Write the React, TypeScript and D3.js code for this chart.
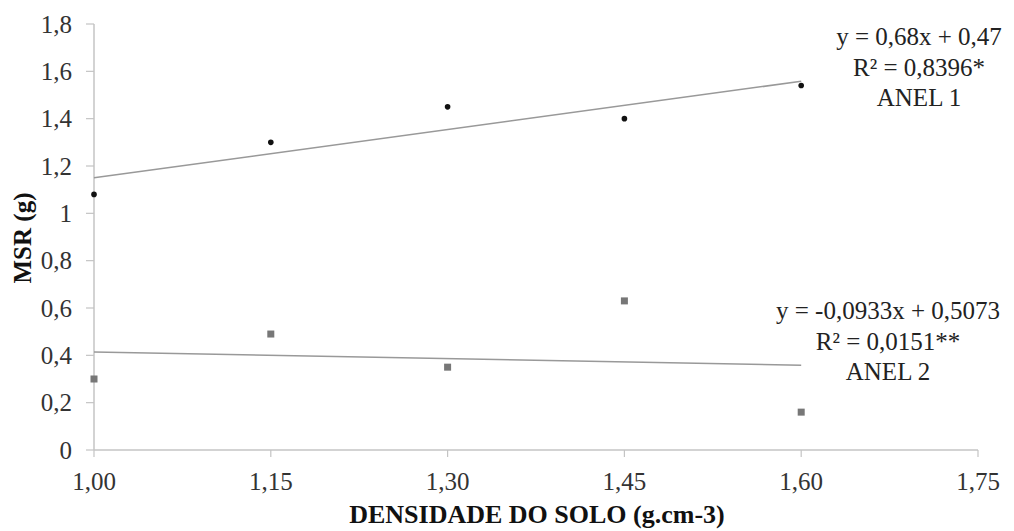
import React from 'react';
import * as d3 from 'd3';

const X_TICKS = [1.0, 1.15, 1.3, 1.45, 1.6, 1.75];
const Y_TICKS = [0, 0.2, 0.4, 0.6, 0.8, 1, 1.2, 1.4, 1.6, 1.8];
const DENSITY = [1.0, 1.15, 1.3, 1.45, 1.6];
const ANEL1 = [1.08, 1.3, 1.45, 1.4, 1.54];
const ANEL2 = [0.3, 0.49, 0.35, 0.63, 0.16];
const FIT1 = {slope: 0.68, intercept: 0.47};
const FIT2 = {slope: -0.0933, intercept: 0.5073};
const LABEL1 = ['y = 0,68x + 0,47', 'R² = 0,8396*', 'ANEL 1'];
const LABEL2 = ['y = -0,0933x + 0,5073', 'R² = 0,0151**', 'ANEL 2'];

const W = 1014;
const H = 531;
const FONT = '"Liberation Serif", "Times New Roman", serif';

const fmtX = (v: number) => v.toFixed(2).replace('.', ',');
const fmtY = (v: number) => (v === 0 || v === 1 ? String(v) : v.toFixed(1).replace('.', ','));

export default function App() {
  const x = d3.scaleLinear().domain([1.0, 1.75]).range([94, 978]);
  const y = d3.scaleLinear().domain([0, 1.8]).range([450, 24]);

  const xs = [DENSITY[0], DENSITY[DENSITY.length - 1]];
  const fit = (f: {slope: number; intercept: number}) =>
    d3.line<number>().x(d => x(d)).y(d => y(f.slope * d + f.intercept))(xs) || '';

  return (
    <svg width={W} height={H} style={{position: 'absolute', left: 0, top: 0}} fontFamily={FONT}>
      <rect width={W} height={H} fill="#fff" />
      {/* axes */}
      <line x1={x(1.0)} x2={x(1.75)} y1={y(0)} y2={y(0)} stroke="#c4c4c4" strokeWidth={1.5} />
      <line x1={x(1.0)} x2={x(1.0)} y1={y(0)} y2={y(1.8)} stroke="#c4c4c4" strokeWidth={1.5} />
      {Y_TICKS.map(t => (
        <g key={'y' + t}>
          <line x1={x(1.0) - 8} x2={x(1.0)} y1={y(t)} y2={y(t)} stroke="#c4c4c4" strokeWidth={1.2} />
          <text x={72} y={y(t)} dy="0.34em" textAnchor="end" fontSize={25} fill="#333">{fmtY(t)}</text>
        </g>
      ))}
      {X_TICKS.map(t => (
        <g key={'x' + t}>
          <line x1={x(t)} x2={x(t)} y1={y(0)} y2={y(0) + 7} stroke="#c4c4c4" strokeWidth={1.2} />
          <text x={x(t)} y={490} textAnchor="middle" fontSize={25} fill="#333">{fmtX(t)}</text>
        </g>
      ))}
      {/* trend lines */}
      <path d={fit(FIT1)} fill="none" stroke="#999" strokeWidth={1.5} />
      <path d={fit(FIT2)} fill="none" stroke="#999" strokeWidth={1.5} />
      {/* points */}
      {DENSITY.map((d, i) => (
        <circle key={'a' + i} cx={x(d)} cy={y(ANEL1[i])} r={2.8} fill="#111" />
      ))}
      {DENSITY.map((d, i) => (
        <rect key={'b' + i} x={x(d) - 3.5} y={y(ANEL2[i]) - 3.5} width={7} height={7} fill="#777" />
      ))}
      {/* equations */}
      {LABEL1.map((s, i) => (
        <text key={'l1' + i} x={919} y={45 + i * 30.5} textAnchor="middle" fontSize={25} fill="#222">{s}</text>
      ))}
      {LABEL2.map((s, i) => (
        <text key={'l2' + i} x={888} y={319 + i * 30.5} textAnchor="middle" fontSize={25} fill="#222">{s}</text>
      ))}
      {/* axis titles */}
      <text x={537} y={523} textAnchor="middle" fontSize={26} fontWeight="bold" fill="#111">DENSIDADE DO SOLO (g.cm-3)</text>
      <text transform="translate(31,238) rotate(-90)" textAnchor="middle" fontSize={25} fontWeight="bold" fill="#111">MSR (g)</text>
    </svg>
  );
}
